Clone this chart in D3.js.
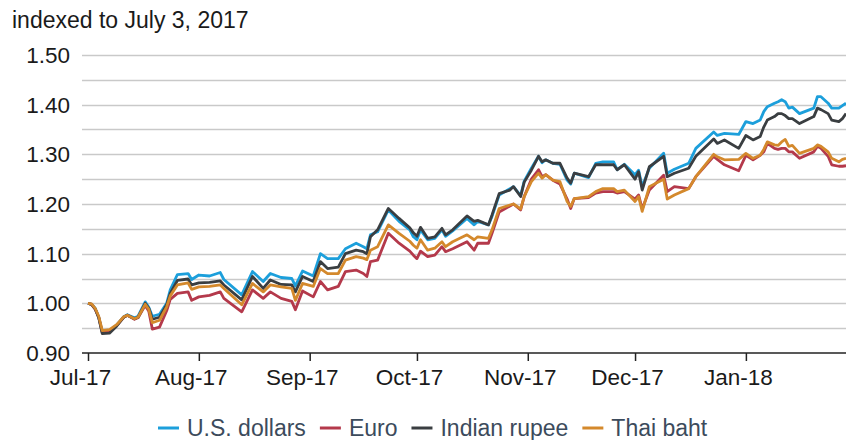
<!DOCTYPE html>
<html>
<head>
<meta charset="utf-8">
<script src="https://cdn.jsdelivr.net/npm/d3@7"></script>
<style>
  body { margin: 0; background: #fff; }
  text { font-family: "Liberation Sans", Arial, sans-serif; }
</style>
</head>
<body>
<div id="chart-area"></div>
<script>
// dates of the plotted points (index = 1.00 on July 3, 2017)
var dates = [
  "2017-07-03","2017-07-04","2017-07-05","2017-07-06","2017-07-07","2017-07-09","2017-07-11","2017-07-13",
  "2017-07-14","2017-07-16","2017-07-17","2017-07-19","2017-07-20","2017-07-21","2017-07-23","2017-07-25",
  "2017-07-26","2017-07-28","2017-07-31","2017-08-01","2017-08-03","2017-08-06","2017-08-09","2017-08-10",
  "2017-08-15","2017-08-18","2017-08-21","2017-08-23","2017-08-26","2017-08-29","2017-08-30","2017-09-01",
  "2017-09-04","2017-09-06","2017-09-08","2017-09-11","2017-09-13","2017-09-16","2017-09-18","2017-09-19",
  "2017-09-20","2017-09-22","2017-09-25","2017-09-28","2017-10-01","2017-10-02","2017-10-03","2017-10-04",
  "2017-10-06","2017-10-08","2017-10-10","2017-10-11","2017-10-13","2017-10-17","2017-10-19","2017-10-20",
  "2017-10-23","2017-10-24","2017-10-26","2017-10-29","2017-10-30","2017-11-01","2017-11-02","2017-11-04",
  "2017-11-06","2017-11-07","2017-11-08","2017-11-10","2017-11-12","2017-11-14","2017-11-15","2017-11-16",
  "2017-11-20","2017-11-22","2017-11-24","2017-11-27","2017-11-28","2017-11-30","2017-12-03","2017-12-04",
  "2017-12-05","2017-12-07","2017-12-11","2017-12-12","2017-12-14","2017-12-18","2017-12-20","2017-12-25",
  "2017-12-26","2017-12-28","2018-01-01","2018-01-03","2018-01-05","2018-01-07","2018-01-08","2018-01-09",
  "2018-01-11","2018-01-12","2018-01-13","2018-01-14","2018-01-15","2018-01-16","2018-01-18","2018-01-22",
  "2018-01-23","2018-01-24","2018-01-26","2018-01-27","2018-01-29","2018-01-30","2018-01-31"
];

var usd = [
  1.000,0.998,0.990,0.972,0.942,0.944,0.956,0.973,0.977,0.971,0.974,1.003,0.992,0.974,0.978,1.000,
  1.027,1.058,1.060,1.048,1.057,1.055,1.062,1.048,1.017,1.064,1.044,1.060,1.052,1.050,1.035,1.065,
  1.055,1.100,1.090,1.090,1.110,1.121,1.114,1.110,1.138,1.144,1.188,1.165,1.148,1.134,1.128,1.148,
  1.128,1.131,1.148,1.135,1.146,1.171,1.158,1.165,1.158,1.175,1.218,1.231,1.235,1.217,1.246,1.272,
  1.296,1.283,1.289,1.282,1.280,1.248,1.240,1.262,1.253,1.282,1.285,1.285,1.269,1.280,1.259,1.268,
  1.235,1.272,1.302,1.262,1.270,1.282,1.312,1.345,1.338,1.342,1.340,1.366,1.362,1.369,1.386,1.396,
  1.403,1.406,1.410,1.406,1.393,1.395,1.382,1.393,1.416,1.416,1.403,1.393,1.393,1.398,1.403
];

var eur = [
  1.000,0.998,0.988,0.972,0.941,0.943,0.955,0.972,0.976,0.968,0.971,0.996,0.984,0.948,0.952,0.985,
  1.008,1.020,1.023,1.006,1.013,1.016,1.023,1.010,0.983,1.027,1.010,1.023,1.010,1.004,0.987,1.025,
  1.013,1.044,1.027,1.034,1.064,1.067,1.060,1.054,1.084,1.087,1.141,1.121,1.105,1.097,1.090,1.105,
  1.094,1.097,1.114,1.104,1.110,1.124,1.107,1.121,1.121,1.141,1.184,1.196,1.200,1.188,1.215,1.250,
  1.269,1.255,1.259,1.248,1.240,1.210,1.191,1.211,1.213,1.222,1.225,1.225,1.222,1.225,1.210,1.218,
  1.190,1.228,1.258,1.225,1.235,1.231,1.255,1.296,1.290,1.279,1.267,1.298,1.289,1.298,1.305,1.322,
  1.312,1.310,1.312,1.312,1.305,1.305,1.292,1.305,1.316,1.312,1.296,1.279,1.276,1.276,1.277
];

var inr = [
  1.000,0.998,0.989,0.971,0.939,0.940,0.954,0.972,0.976,0.969,0.972,1.000,0.990,0.968,0.972,0.997,
  1.020,1.046,1.049,1.037,1.041,1.042,1.045,1.037,1.007,1.054,1.030,1.047,1.038,1.037,1.023,1.054,
  1.044,1.084,1.070,1.073,1.100,1.107,1.104,1.100,1.134,1.148,1.191,1.171,1.152,1.142,1.135,1.153,
  1.131,1.134,1.151,1.138,1.148,1.176,1.165,1.167,1.158,1.178,1.221,1.228,1.235,1.215,1.244,1.268,
  1.296,1.285,1.289,1.282,1.282,1.252,1.242,1.262,1.255,1.279,1.279,1.279,1.269,1.279,1.250,1.265,
  1.228,1.275,1.296,1.255,1.262,1.272,1.296,1.331,1.322,1.329,1.312,1.338,1.329,1.336,1.355,1.369,
  1.376,1.382,1.382,1.378,1.372,1.372,1.362,1.376,1.393,1.390,1.382,1.369,1.366,1.372,1.382
];

var thb = [
  1.000,0.999,0.990,0.974,0.945,0.947,0.957,0.973,0.976,0.969,0.972,0.998,0.988,0.961,0.966,0.993,
  1.015,1.037,1.041,1.028,1.033,1.034,1.037,1.030,0.997,1.040,1.023,1.037,1.033,1.030,1.006,1.040,
  1.034,1.070,1.060,1.060,1.087,1.094,1.091,1.088,1.107,1.114,1.158,1.141,1.125,1.117,1.111,1.128,
  1.107,1.111,1.124,1.114,1.124,1.138,1.128,1.134,1.131,1.148,1.191,1.198,1.200,1.190,1.215,1.245,
  1.262,1.252,1.259,1.248,1.245,1.205,1.195,1.211,1.215,1.225,1.231,1.231,1.225,1.228,1.205,1.215,
  1.185,1.235,1.250,1.210,1.218,1.231,1.255,1.300,1.295,1.289,1.290,1.302,1.292,1.298,1.310,1.325,
  1.319,1.318,1.325,1.330,1.316,1.318,1.302,1.312,1.319,1.316,1.305,1.292,1.285,1.290,1.292
];

var seriesNames = ["U.S. dollars", "Euro", "Indian rupee", "Thai baht"];
var seriesColors = ["#1c9fdb", "#b4394b", "#3a3e41", "#d4892c"];
var yTicks = [0.90, 1.00, 1.10, 1.20, 1.30, 1.40, 1.50];
var monthTicks = ["2017-07-03","2017-08-03","2017-09-03","2017-10-03","2017-11-03","2017-12-03","2018-01-03"];

var parse = d3.timeParse("%Y-%m-%d");
var series = [usd, eur, inr, thb].map(function (vals, i) {
  return {
    name: seriesNames[i],
    color: seriesColors[i],
    values: vals.map(function (v, j) { return { date: parse(dates[j]), value: v }; })
  };
});

var width = 846, height = 440;
var svg = d3.select("#chart-area")
  .append("svg")
  .attr("width", width)
  .attr("height", height);

var x = d3.scaleTime()
  .domain([parse("2017-07-03"), parse("2018-01-31")])
  .range([88, 846]);

var y = d3.scaleLinear()
  .domain([0.9, 1.5])
  .range([353, 55]);

// title
svg.append("text")
  .attr("x", 12)
  .attr("y", 28)
  .attr("font-size", 23)
  .attr("fill", "#1a1a1a")
  .text("indexed to July 3, 2017");

// gridlines every 0.05
svg.append("g")
  .selectAll("line")
  .data(d3.range(0.95, 1.5001, 0.05))
  .enter()
  .append("line")
  .attr("x1", 82)
  .attr("x2", width)
  .attr("y1", (d) => Math.round(y(d)) + 0.5)
  .attr("y2", (d) => Math.round(y(d)) + 0.5)
  .attr("stroke", "#c9c9c9")
  .attr("stroke-width", 1.5);

// y labels
svg.append("g")
  .selectAll("text")
  .data(yTicks)
  .enter()
  .append("text")
  .attr("x", 70)
  .attr("y", (d) => y(d) + 8)
  .attr("text-anchor", "end")
  .attr("font-size", 22.5)
  .attr("fill", "#1a1a1a")
  .text((d) => d.toFixed(2));

// x axis
var xAxis = d3.axisBottom(x)
  .tickValues(monthTicks.map(parse))
  .tickFormat(d3.timeFormat("%b-%y"))
  .tickSize(8)
  .tickSizeOuter(0);

var gx = svg.append("g")
  .attr("transform", "translate(0,353)")
  .call(xAxis);
gx.select(".domain").remove();
gx.selectAll(".tick line").attr("stroke", "#222").attr("stroke-width", 1.5);
gx.selectAll(".tick text")
  .attr("font-size", 22.5)
  .attr("font-family", "'Liberation Sans', Arial, sans-serif")
  .attr("fill", "#1a1a1a")
  .attr("dx", -8)
  .attr("y", 16);

svg.append("line")
  .attr("x1", 82)
  .attr("x2", width)
  .attr("y1", 353)
  .attr("y2", 353)
  .attr("stroke", "#222")
  .attr("stroke-width", 1.5);

// lines
var line = d3.line()
  .x((d) => x(d.date))
  .y((d) => y(d.value));

svg.append("g")
  .selectAll("path")
  .data(series)
  .enter()
  .append("path")
  .attr("d", (d) => line(d.values))
  .attr("fill", "none")
  .attr("stroke", (d) => d.color)
  .attr("stroke-width", 2.8)
  .attr("stroke-linejoin", "round");

// legend
var legend = svg.append("g").attr("transform", "translate(0,428)");
var lx = 158;
series.forEach(function (s) {
  legend.append("line")
    .attr("x1", lx)
    .attr("x2", lx + 21)
    .attr("y1", 0)
    .attr("y2", 0)
    .attr("stroke", s.color)
    .attr("stroke-width", 3);
  var t = legend.append("text")
    .attr("x", lx + 29)
    .attr("y", 8)
    .attr("font-size", 23)
    .attr("fill", "#3c4b5c")
    .text(s.name);
  lx += 29 + t.node().getComputedTextLength() + 14;
});
</script>
</body>
</html>
